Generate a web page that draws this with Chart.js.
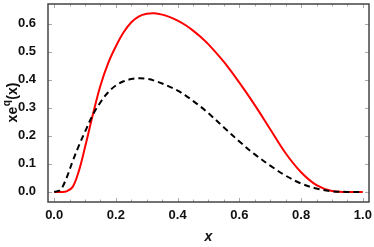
<!DOCTYPE html>
<html>
<head>
<meta charset="utf-8">
<script src="https://cdn.jsdelivr.net/npm/chart.js@4/dist/chart.umd.min.js"></script>
<style>
  html, body { margin: 0; padding: 0; background: #fff; }
  #wrap { width: 374px; height: 247px; }
</style>
</head>
<body>
<div id="wrap"><canvas id="chartXe"></canvas></div>
<script>
const xs = [0, 0.02, 0.04, 0.06, 0.08, 0.1, 0.125, 0.15, 0.175, 0.2, 0.225, 0.25, 0.275, 0.3, 0.325,
  0.35, 0.375, 0.4, 0.425, 0.45, 0.475, 0.5, 0.55, 0.6, 0.65, 0.7, 0.75, 0.8, 0.85, 0.9, 0.95, 1.0];
const redVals = [0, 0, 0.002, 0.018, 0.075, 0.16, 0.275, 0.38, 0.46, 0.52, 0.57, 0.606, 0.627, 0.636, 0.638,
  0.633, 0.624, 0.612, 0.596, 0.576, 0.553, 0.527, 0.464, 0.39, 0.31, 0.224, 0.138, 0.07, 0.024, 0.003, 0, 0];
const blackVals = [0, 0.007, 0.05, 0.11, 0.165, 0.215, 0.275, 0.32, 0.356, 0.38, 0.395, 0.403, 0.406, 0.404, 0.397,
  0.387, 0.375, 0.362, 0.345, 0.325, 0.304, 0.281, 0.23, 0.18, 0.134, 0.094, 0.058, 0.03, 0.012, 0.002, 0, 0];
const xTicks = [0, 0.2, 0.4, 0.6, 0.8, 1.0];
const yTicks = [0, 0.1, 0.2, 0.3, 0.4, 0.5, 0.6];

const pts = vals => xs.map((x, i) => ({ x: x, y: vals[i] }));

// frame with small inward ticks + y title with superscript
const framePlugin = {
  id: 'frame',
  afterDatasetsDraw(chart) {
    const c = chart.ctx, a = chart.chartArea;
    const sx = chart.scales.x, sy = chart.scales.y;
    c.save();
    c.strokeStyle = '#aaa';
    c.lineWidth = 1;
    c.beginPath();
    for (let v = 0; v <= 1.0001; v += 0.05) {
      const px = Math.round(sx.getPixelForValue(v)) + 0.5;
      const len = Math.abs(v * 5 - Math.round(v * 5)) < 1e-6 ? 4 : 2.5;
      c.moveTo(px, a.bottom); c.lineTo(px, a.bottom - len);
      c.moveTo(px, a.top); c.lineTo(px, a.top + len);
    }
    yTicks.forEach(v => {
      const py = Math.round(sy.getPixelForValue(v)) + 0.5;
      c.moveTo(a.left, py); c.lineTo(a.left + 4, py);
      c.moveTo(a.right, py); c.lineTo(a.right - 4, py);
    });
    c.stroke();
    c.strokeStyle = '#444';
    c.lineWidth = 1.5;
    c.strokeRect(a.left, a.top, a.right - a.left, a.bottom - a.top);
    c.restore();

    c.save();
    c.translate(13, (a.top + a.bottom) / 2);
    c.rotate(-Math.PI / 2);
    c.fillStyle = '#111';
    c.textBaseline = 'middle';
    c.font = 'bold 14px "Liberation Sans", Arial, sans-serif';
    const w1 = c.measureText('xe').width;
    c.font = 'bold 10px "Liberation Sans", Arial, sans-serif';
    const w2 = c.measureText('q').width;
    c.font = 'bold 14px "Liberation Sans", Arial, sans-serif';
    const w3 = c.measureText('(x)').width;
    let x0 = -(w1 + w2 + w3) / 2;
    c.textAlign = 'left';
    c.fillText('xe', x0, 0);
    c.font = 'bold 10px "Liberation Sans", Arial, sans-serif';
    c.fillText('q', x0 + w1 + 0.5, -6);
    c.font = 'bold 14px "Liberation Sans", Arial, sans-serif';
    c.fillText('(x)', x0 + w1 + w2 + 1, 0);
    c.restore();
  }
};

const tickFont = { family: '"Liberation Sans", Arial, sans-serif', size: 13, weight: 'bold' };

new Chart(document.getElementById('chartXe').getContext('2d'), {
  type: 'scatter',
  data: {
    datasets: [
      {
        label: 'red',
        data: pts(redVals),
        showLine: true,
        borderColor: '#ff0000',
        borderWidth: 2,
        pointRadius: 0,
        tension: 0.35,
        order: 2
      },
      {
        label: 'black',
        data: pts(blackVals),
        showLine: true,
        borderColor: '#000000',
        borderWidth: 2,
        borderDash: [6, 4],
        pointRadius: 0,
        tension: 0.35,
        order: 1
      }
    ]
  },
  options: {
    responsive: true,
    maintainAspectRatio: false,
    animation: false,
    layout: { padding: { left: 0, right: 5, top: 4, bottom: 0 } },
    plugins: { legend: { display: false }, tooltip: { enabled: false } },
    scales: {
      x: {
        type: 'linear',
        min: -0.02, max: 1.02,
        afterBuildTicks: s => { s.ticks = xTicks.map(v => ({ value: v })); },
        afterFit: s => { s.height = 45; s.paddingLeft = 0; s.paddingRight = 0; },
        grid: { display: false, drawTicks: false },
        border: { display: false },
        ticks: { color: '#111', font: tickFont, padding: 6, callback: v => v.toFixed(1), maxRotation: 0 },
        title: {
          display: true, text: 'x', color: '#111',
          font: { family: '"Liberation Sans", Arial, sans-serif', size: 14, weight: 'bold', style: 'italic' },
          padding: { top: 0, bottom: 1 }
        }
      },
      y: {
        min: -0.036, max: 0.671,
        afterBuildTicks: s => { s.ticks = yTicks.map(v => ({ value: v })); },
        afterFit: s => { s.width = 48; s.paddingTop = 0; s.paddingBottom = 0; },
        grid: { display: false, drawTicks: false },
        border: { display: false },
        ticks: { color: '#111', font: tickFont, padding: 12, callback: v => v.toFixed(1) }
      }
    }
  },
  plugins: [framePlugin]
});
</script>
</body>
</html>
